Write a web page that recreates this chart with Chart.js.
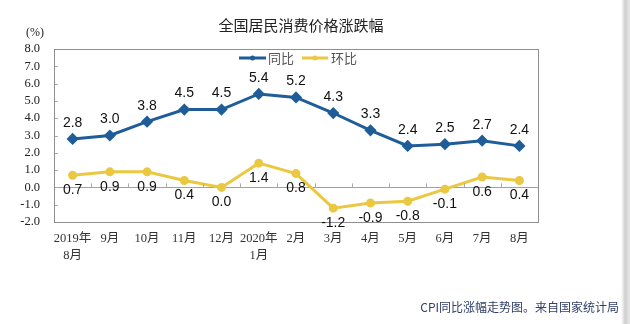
<!DOCTYPE html>
<html>
<head>
<meta charset="utf-8">
<script src="https://cdn.jsdelivr.net/npm/chart.js@4"></script>
<style>
  html, body { margin: 0; padding: 0; background: #fff; }
  #wrap { position: relative; width: 630px; height: 324px; }
  #edge { position: absolute; left: 621px; top: 0; width: 9px; height: 324px;
          background: linear-gradient(to right, #fff, #d0d0d0 45%, #e6e6e6); }
</style>
</head>
<body>
<div id="wrap">
  <canvas id="chart" width="630" height="324"></canvas>
  <div id="edge"></div>
</div>
<script>
// 数据
const months = [["2019年", "8月"], "9月", "10月", "11月", "12月", ["2020年", "1月"], "2月", "3月", "4月", "5月", "6月", "7月", "8月"];
const yoy = [2.8, 3.0, 3.8, 4.5, 4.5, 5.4, 5.2, 4.3, 3.3, 2.4, 2.5, 2.7, 2.4];   // 同比
const mom = [0.7, 0.9, 0.9, 0.4, 0.0, 1.4, 0.8, -1.2, -0.9, -0.8, -0.1, 0.6, 0.4]; // 环比
const seriesNames = ["同比", "环比"];

const blue = "#1f5d99";
const yellow = "#ebc842";
const cjk = "'Noto Sans CJK SC', sans-serif";
const serif = "'Liberation Serif', 'Noto Sans CJK SC', serif";

// 标题、图例、数据标签、边框
const extras = {
  id: "extras",
  afterDatasetsDraw(chart) {
    const ctx = chart.ctx;
    const a = chart.chartArea;
    const y = chart.scales.y;
    const x = chart.scales.x;
    ctx.save();

    // 零线上的小刻度
    const y0 = y.getPixelForValue(0);
    ctx.strokeStyle = "#aaa";
    ctx.lineWidth = 1;
    for (let i = 1; i < months.length; i++) {
      const px = Math.round((x.getPixelForValue(i - 1) + x.getPixelForValue(i)) / 2) + 0.5;
      ctx.beginPath(); ctx.moveTo(px, y0 - 4); ctx.lineTo(px, y0); ctx.stroke();
    }
    // y轴内侧小刻度
    for (let v = -2; v <= 8; v++) {
      const py = Math.round(y.getPixelForValue(v)) + 0.5;
      ctx.beginPath(); ctx.moveTo(a.left, py); ctx.lineTo(a.left + 4, py); ctx.stroke();
    }

    // 边框
    ctx.strokeStyle = "#8f8f8f";
    ctx.strokeRect(Math.round(a.left) + 0.5, Math.round(a.top) + 0.5, Math.round(a.width), Math.round(a.height));

    // 数据标签
    ctx.font = "14px 'Liberation Sans', Arial, sans-serif";
    ctx.fillStyle = "#111";
    ctx.textAlign = "center";
    ctx.textBaseline = "middle";
    chart.getDatasetMeta(0).data.forEach((p, i) => {
      ctx.fillText(yoy[i].toFixed(1), p.x, p.y - 16);
    });
    chart.getDatasetMeta(1).data.forEach((p, i) => {
      ctx.fillText(mom[i].toFixed(1), p.x, p.y + 15);
    });

    // 图例
    const legend = [[239, 266, 279, blue, seriesNames[0]], [302, 328, 342, yellow, seriesNames[1]]];
    ctx.font = "13px " + cjk;
    legend.forEach(([x1, x2, tx, col, name]) => {
      ctx.strokeStyle = col; ctx.lineWidth = 3;
      ctx.beginPath(); ctx.moveTo(x1, 58); ctx.lineTo(x2, 58); ctx.stroke();
      ctx.fillStyle = col;
      ctx.beginPath(); ctx.arc((x1 + x2) / 2, 58, 2.5, 0, Math.PI * 2); ctx.fill();
      ctx.fillStyle = "#555";
      ctx.fillText(name, tx + 2, 58);
    });

    // 标题
    ctx.fillStyle = "#222";
    ctx.font = "15px " + cjk;
    ctx.fillText("全国居民消费价格涨跌幅", 301, 25);

    // 单位
    ctx.font = "12px " + serif;
    ctx.fillText("(%)", 35, 33);

    // 注释
    ctx.fillStyle = "#2f3f66";
    ctx.font = "12px " + cjk;
    ctx.textAlign = "right";
    ctx.fillText("CPI同比涨幅走势图。来自国家统计局", 619, 307);
    ctx.restore();
  }
};

new Chart(document.getElementById("chart"), {
  type: "line",
  data: {
    labels: months,
    datasets: [
      { label: seriesNames[0], data: yoy, borderColor: blue, backgroundColor: blue, borderWidth: 3,
        pointStyle: "rectRot", pointRadius: 4, tension: 0 },
      { label: seriesNames[1], data: mom, borderColor: yellow, backgroundColor: yellow, borderWidth: 3,
        pointStyle: "circle", pointRadius: 3, tension: 0 }
    ]
  },
  options: {
    responsive: false,
    animation: false,
    layout: { padding: { top: 49, right: 92, left: 0, bottom: 0 } },
    plugins: { legend: { display: false }, title: { display: false }, tooltip: { enabled: false } },
    scales: {
      x: {
        offset: true,
        grid: { display: false, drawTicks: false },
        border: { display: false },
        ticks: { color: "#333", font: { family: serif, size: 12.5, lineHeight: 1.3 }, padding: 9, maxRotation: 0, autoSkip: false },
        afterFit(s) { s.height = 102; }
      },
      y: {
        min: -2, max: 8,
        grid: { drawTicks: false, color: c => c.tick.value === 0 ? "#a0a0a0" : "rgba(0,0,0,0)" },
        border: { display: false },
        ticks: { stepSize: 1, autoSkip: false, color: "#222", padding: 14, font: { family: serif, size: 12.5 },
                 callback: v => v.toFixed(1) },
        afterFit(s) { s.width = 54; }
      }
    }
  },
  plugins: [extras]
});
</script>
</body>
</html>
